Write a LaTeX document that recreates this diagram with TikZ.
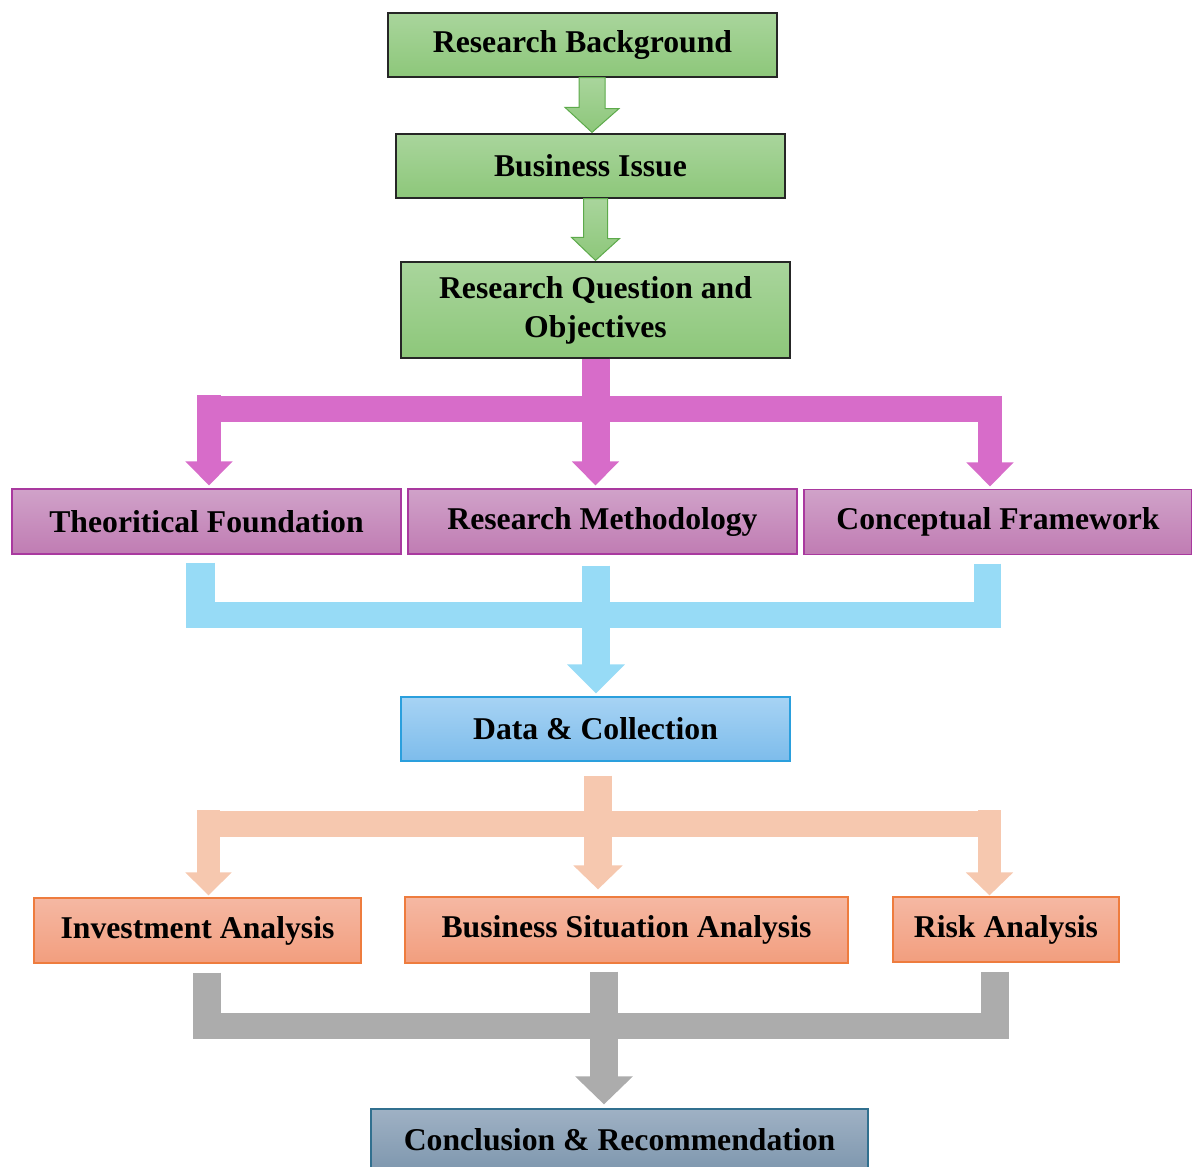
\documentclass[tikz,border=0pt]{standalone}
\usepackage{fontspec}
\setmainfont{Liberation Serif}
\usepackage{xcolor}
\usetikzlibrary{arrows.meta,calc,positioning}
\definecolor{gtop}{HTML}{A9D59C}
\definecolor{gbot}{HTML}{8DC77A}
\definecolor{gedge}{HTML}{5DAA4B}
\definecolor{ptop}{HTML}{D0A2C9}
\definecolor{pbot}{HTML}{C07CB3}
\definecolor{pedge}{HTML}{A9399F}
\definecolor{mflow}{HTML}{D76CC9}
\definecolor{bflow}{HTML}{97DBF6}
\definecolor{btop}{HTML}{A7D3F4}
\definecolor{bbot}{HTML}{7DBCEB}
\definecolor{bedge}{HTML}{2A9FDD}
\definecolor{oflow}{HTML}{F6C8AF}
\definecolor{otop}{HTML}{F5B8A3}
\definecolor{obot}{HTML}{F29E7E}
\definecolor{oedge}{HTML}{EE7C3E}
\definecolor{gyflow}{HTML}{ACACAC}
\definecolor{ctop}{HTML}{9FB1C4}
\definecolor{cbot}{HTML}{7E97AE}
\definecolor{cedge}{HTML}{31708F}
\tikzset{
  sbox/.style={rectangle, line width=1.2pt, inner sep=0pt, align=center,
               minimum width=389pt, minimum height=64pt,
               font=\fontsize{31.7}{39}\selectfont\bfseries},
  greenbox/.style={sbox, draw=black!85, top color=gtop, bottom color=gbot},
  purplebox/.style={sbox, draw=pedge, top color=ptop, bottom color=pbot, minimum height=65pt},
  bluebox/.style={sbox, draw=bedge, top color=btop, bottom color=bbot},
  orangebox/.style={sbox, draw=oedge, top color=otop, bottom color=obot, minimum height=65pt},
  slatebox/.style={sbox, draw=cedge, top color=ctop, bottom color=cbot},
  garrow/.style={draw=gedge, line width=1pt, top color=gtop, bottom color=gbot},
  mline/.style={draw=mflow},
  bline/.style={draw=bflow},
  pline/.style={draw=oflow},
  gyline/.style={draw=gyflow},
}
\begin{document}
\begin{tikzpicture}[x=1pt,y=-1pt]
  \useasboundingbox (0,0) rectangle (1192,1167);

  % --- boxes ---
  \node[greenbox] (rb) at (582.5,45) {Research Background};
  \node[greenbox] (bi) at (590.5,166) {Business Issue};
  \node[greenbox, minimum height=96pt] (rq) at (595.5,310) {Research Question and\\Objectives};

  \node[purplebox] (tf) at (206.5,521.5) {Theoritical Foundation};
  \node[purplebox] (rm) at (602.5,521.5) {Research Methodology};
  \node[purplebox, minimum width=388pt] (cf) at (998,522) {Conceptual Framework};

  \node[bluebox] (dc) at (595.5,729) {Data \& Collection};

  \node[orangebox, minimum width=327pt] (ia) at (197.5,930.5) {Investment Analysis};
  \node[orangebox, minimum width=443pt, minimum height=66pt] (bs) at (626.5,930) {Business Situation Analysis};
  \node[orangebox, minimum width=226pt] (ra) at (1006,929.5) {Risk Analysis};

  \node[slatebox, minimum width=497pt, minimum height=62pt] (cr) at (619.5,1140) {Conclusion \& Recommendation};

  % --- green arrows ---
  \draw[garrow] ($(rb.south -| bi.north)+(-11.5,0)$) -- ++(26,0) -- ++(0,31) -- ++(14,0)
    -- ($(bi.north)+(1.5,-1)$) -- ++(-27,-25) -- ++(14,0) -- cycle;
  \draw[garrow] ($(bi.south -| rq.north)+(-12,0)$) -- ++(24,0) -- ++(0,40) -- ++(12,0)
    -- ($(rq.north)+(0,-1)$) -- ++(-24,-23) -- ++(12,0) -- cycle;

  % --- magenta split ---
  \coordinate (mL) at (197,409);
  \coordinate (mR) at (1001,409);
  \draw[mline, line width=26pt] (mL) -- (mR);
  \draw[mline, line width=28pt, -{Triangle[length=24pt,width=46pt]}]
    (rq.south) -- ($(rq.south |- rm.north)+(0,-3)$);
  \draw[mline, line width=24pt, -{Triangle[length=24pt,width=46pt]}]
    ($(tf.north)+(2.5,-93)$) -- ($(tf.north)+(2.5,-3)$);
  \draw[mline, line width=24pt, -{Triangle[length=24pt,width=46pt]}]
    ($(cf.north)+(-8,-93)$) -- ($(cf.north)+(-8,-2.5)$);

  % --- blue merge ---
  \coordinate (bL) at (186,615);
  \coordinate (bR) at (1001,615);
  \draw[bline, line width=26pt] (bL) -- (bR);
  \draw[bline, line width=29pt] ($(tf.south)+(-6,8)$) -- ($(tf.south)+(-6,48)$);
  \draw[bline, line width=27pt] ($(cf.south)+(-10.5,8.5)$) -- ($(cf.south)+(-10.5,48)$);
  \draw[bline, line width=28pt, -{Triangle[length=29pt,width=56pt]}]
    ($(rm.south)+(-6.5,11)$) -- ($(dc.north)+(0.5,-3)$);

  % --- peach split ---
  \coordinate (pL) at (197,824);
  \coordinate (pR) at (1001,824);
  \draw[pline, line width=26pt] (pL) -- (pR);
  \draw[pline, line width=28pt, -{Triangle[length=24pt,width=48pt]}]
    ($(dc.south)+(2.5,14)$) -- ($(bs.north)+(-28.5,-7)$);
  \draw[pline, line width=23pt, -{Triangle[length=23pt,width=45pt]}]
    ($(ia.north)+(11,-87)$) -- ($(ia.north)+(11,-2)$);
  \draw[pline, line width=23pt, -{Triangle[length=23pt,width=46pt]}]
    ($(ra.north)+(-16.5,-86)$) -- ($(ra.north)+(-16.5,-1)$);

  % --- grey merge ---
  \coordinate (gL) at (193,1026);
  \coordinate (gR) at (1009,1026);
  \draw[gyline, line width=26pt] (gL) -- (gR);
  \draw[gyline, line width=28pt] ($(ia.south)+(9.5,9)$) -- ($(ia.south)+(9.5,50)$);
  \draw[gyline, line width=28pt] ($(ra.south)+(-11,9)$) -- ($(ra.south)+(-11,51)$);
  \draw[gyline, line width=28pt, -{Triangle[length=28pt,width=56pt]}]
    ($(bs.south)+(-22.5,8)$) -- ($(cr.north)+(-15.5,-4)$);

\end{tikzpicture}
\end{document}
